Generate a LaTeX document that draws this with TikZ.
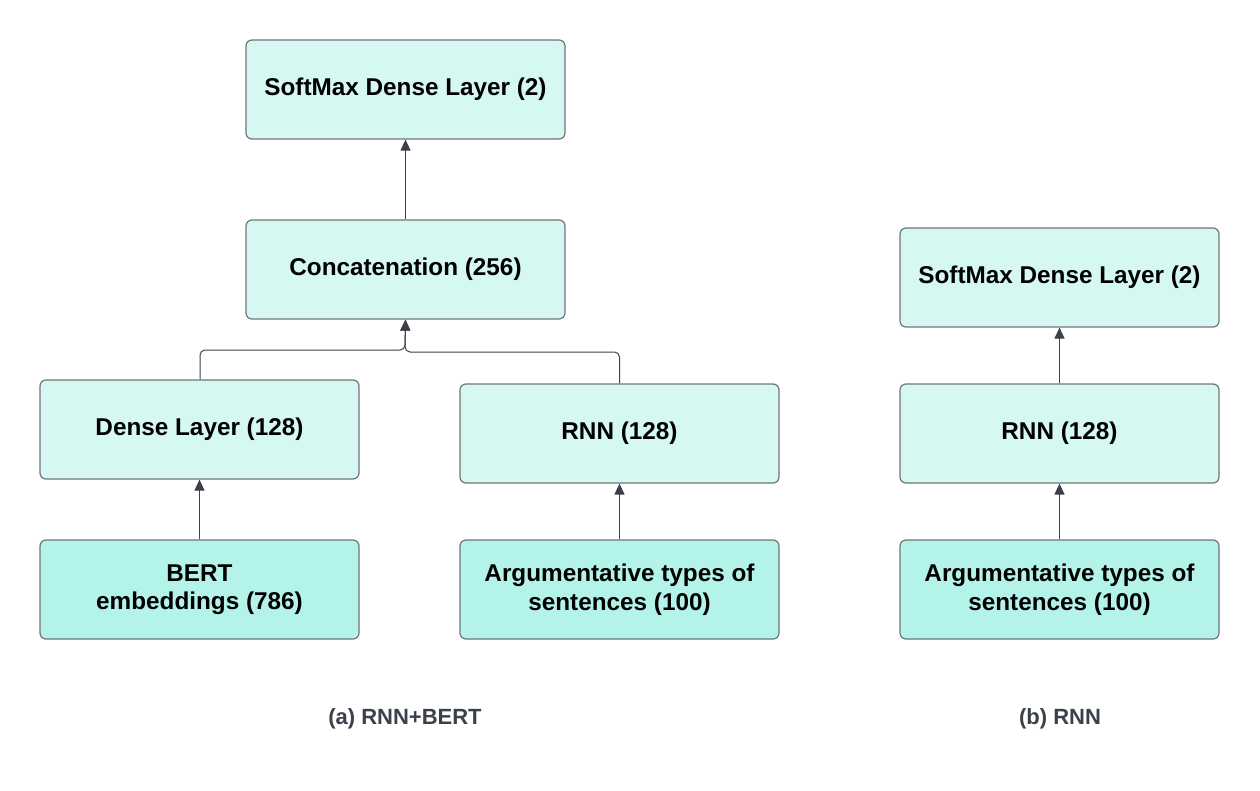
\documentclass[tikz,border=0pt]{standalone}
\usepackage{fontspec}
\setmainfont{Liberation Sans}
\usetikzlibrary{arrows.meta}
\definecolor{boxlight}{HTML}{D5F8F2}
\definecolor{boxinput}{HTML}{B3F3EA}
\definecolor{boxborder}{HTML}{70757B}
\definecolor{arrowc}{HTML}{3B404B}
\definecolor{capc}{HTML}{3A414A}
\begin{document}
\begin{tikzpicture}[x=1pt,y=-1pt,
  layerbox/.style={draw=boxborder,line width=1.2pt,fill=boxlight,rounded corners=6pt,
    minimum width=319pt,minimum height=99pt,inner sep=0pt,align=center,
    font=\fontsize{24.3}{28.5}\selectfont\bfseries},
  inputbox/.style={layerbox,fill=boxinput},
  conn/.style={draw=arrowc,line width=1pt,-{Triangle[length=11pt,width=10pt]}},
  captext/.style={text=capc,font=\fontsize{22}{26}\selectfont\bfseries}]
\useasboundingbox (0,0) rectangle (1260,791);
\node[layerbox] (soft) at (405.5,89.5) {SoftMax Dense Layer (2)};
\node[layerbox] (concat) at (405.5,269.5) {Concatenation (256)};
\node[layerbox] (dense) at (199.5,429.5) {Dense Layer (128)};
\node[layerbox] (rnna) at (619.5,433.5) {RNN (128)};
\node[inputbox] (bert) at (199.5,589.5) {BERT\\embeddings (786)};
\node[inputbox] (arga) at (619.5,589.5) {Argumentative types of\\sentences (100)};
\node[layerbox] (softb) at (1059.5,277.5) {SoftMax Dense Layer (2)};
\node[layerbox] (rnnb) at (1059.5,433.5) {RNN (128)};
\node[inputbox] (argb) at (1059.5,589.5) {Argumentative types of\\sentences (100)};
\node[captext] (capa) at (405,719) {(a) RNN+BERT};
\node[captext] (capb) at (1060,719) {(b) RNN};
\draw[conn] (concat.north) -- (soft.south);
\draw[conn,rounded corners=5pt] (dense.north -| 200,0) |- (405,350) -- (concat.south);
\draw[conn,rounded corners=5pt] (rnna.north) |- (405,352) -- (concat.south);
\draw[conn] (bert.north) -- (dense.south);
\draw[conn] (arga.north) -- (rnna.south);
\draw[conn] (rnnb.north) -- (softb.south);
\draw[conn] (argb.north) -- (rnnb.south);
\end{tikzpicture}
\end{document}
